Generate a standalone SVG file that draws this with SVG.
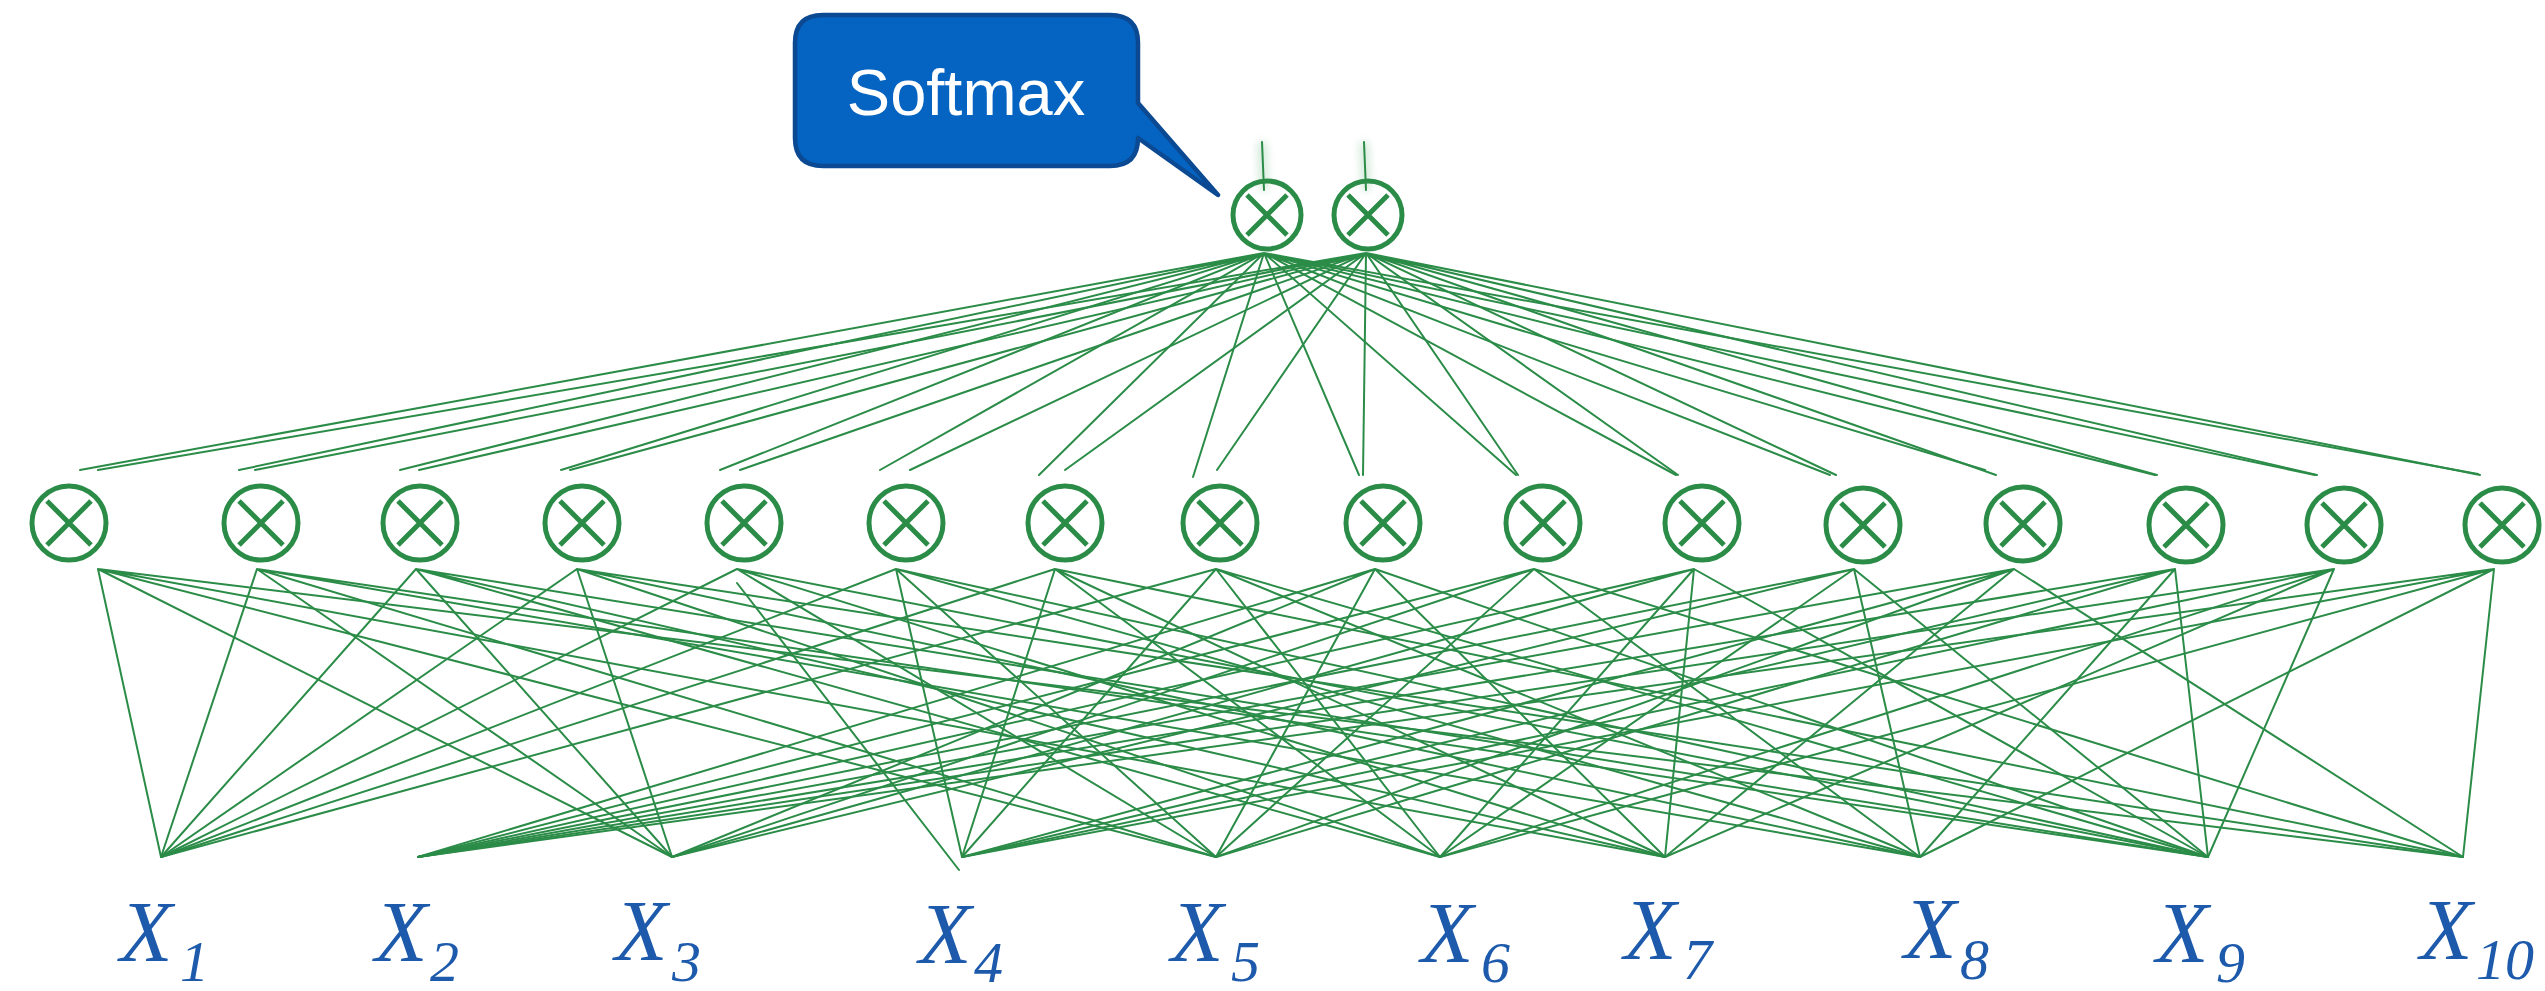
<svg xmlns="http://www.w3.org/2000/svg" width="2545" height="991" viewBox="0 0 2545 991">
  <defs>
    <style>
      .edge { fill: none; stroke: #2B8C48; stroke-width: 2; stroke-linecap: round; }
      .ring { fill: none; stroke: #2B8C48; stroke-width: 5; }
      .cross { fill: none; stroke: #2B8C48; stroke-width: 5; }
      .in { font-family: "Liberation Serif", "Times New Roman", serif; font-style: italic; fill: #1D5AAB; }
      .big { font-size: 86px; }
      .sub { font-size: 58px; }
      .callout-box { fill: #0563C1; stroke: #0B4A92; stroke-width: 4.5; stroke-linejoin: round; }
      .callout-text { font-family: "Liberation Sans", Arial, sans-serif; font-size: 65px; fill: #FFFFFF; text-anchor: middle; }
    </style>
    <filter id="glow" x="-2" y="-1" width="5" height="3">
      <feGaussianBlur stdDeviation="4"/>
    </filter>
  </defs>

  <rect width="2545" height="991" fill="#FFFFFF"/>

  <!-- connectors -->
  <g id="connectors">
    <!-- output units to the product layer -->
    <g id="top-edges" class="edge">
      <path d="M1264 253L80 470M1264 253L239 470M1264 253L400 470M1264 253L561 470M1264 253L720 470M1264 253L880 470M1264 253L1039 475M1264 253L1193 477M1264 253L1359 475M1264 253L1516 475M1264 253L1676 475M1264 253L1830 475M1264 253L1985 470M1264 253L2155 475M1264 253L2315 475M1264 253L2478 474"/>
      <path d="M1366 253L98 470M1366 253L255 470M1366 253L419 470M1366 253L570 470M1366 253L740 470M1366 253L910 470M1366 253L1065 470M1366 253L1217 470M1366 253L1363 475M1366 253L1518 475M1366 253L1678 475M1366 253L1836 475M1366 253L1996 475M1366 253L2157 475M1366 253L2317 475M1366 253L2480 475"/>
    </g>
    <!-- inputs feeding the product layer -->
    <g id="bottom-edges" class="edge">
      <path d="M98 569L161 857M98 569L672 857M98 569L1216 857M98 569L1665 857M98 569L2463 857"/>
      <path d="M257 569L161 857M257 569L672 857M257 569L1216 857M257 569L1920 857M257 569L2208 857"/>
      <path d="M416 569L161 857M416 569L672 857M416 569L1440 857M416 569L1665 857M416 569L2208 857"/>
      <path d="M577 569L161 857M577 569L672 857M577 569L1440 857M577 569L1920 857M577 569L2463 857"/>
      <path d="M737 569L161 857M737 583L959 870M737 569L1216 857M737 569L1665 857M737 569L2208 857"/>
      <path d="M896 569L161 857M896 569L962 857M896 569L1216 857M896 569L1920 857M896 569L2208 857"/>
      <path d="M1055 569L161 857M1055 569L962 857M1055 569L1440 857M1055 569L1665 857M1055 569L2463 857"/>
      <path d="M1216 569L161 857M1216 569L962 857M1216 569L1440 857M1216 569L1920 857M1216 569L2208 857"/>
      <path d="M1375 569L418 857M1375 569L672 857M1375 569L1216 857M1375 569L1665 857M1375 569L2208 857"/>
      <path d="M1534 569L418 857M1534 569L672 857M1534 569L1216 857M1534 569L1920 857M1534 569L2463 857"/>
      <path d="M1694 569L418 857M1694 569L672 857M1694 569L1440 857M1694 569L1665 857M1694 569L2208 857"/>
      <path d="M1854 569L418 857M1854 569L672 857M1854 569L1440 857M1854 569L1920 857M1854 569L2208 857"/>
      <path d="M2014 569L418 857M2014 569L962 857M2014 569L1216 857M2014 569L1665 857M2014 569L2463 857"/>
      <path d="M2175 569L418 857M2175 569L962 857M2175 569L1216 857M2175 569L1920 857M2175 569L2208 857"/>
      <path d="M2334 569L418 857M2334 569L962 857M2334 569L1440 857M2334 569L1665 857M2334 569L2208 857"/>
      <path d="M2494 569L418 857M2494 569L962 857M2494 569L1440 857M2494 569L1920 857M2494 569L2463 857"/>
    </g>
    <!-- outputs leaving the top units -->
    <g id="out-edges">
      <path d="M1262 142L1264 190M1364 142L1366 190" fill="none" stroke="#8CC79C" stroke-width="8" opacity="0.45" filter="url(#glow)"/>
      <path class="edge" d="M1262 142L1264 190M1364 142L1366 190"/>
    </g>
  </g>

  <!-- output product units -->
  <g id="o1"><circle class="ring" cx="1267" cy="215" r="34"/><path class="cross" d="M1247 195L1287 235M1287 195L1247 235"/></g>
  <g id="o2"><circle class="ring" cx="1368" cy="215" r="34"/><path class="cross" d="M1348 195L1388 235M1388 195L1348 235"/></g>

  <!-- hidden product units -->
  <g id="h1"><circle class="ring" cx="69" cy="523" r="37"/><path class="cross" d="M47 501L91 545M91 501L47 545"/></g>
  <g id="h2"><circle class="ring" cx="261" cy="523" r="37"/><path class="cross" d="M239 501L283 545M283 501L239 545"/></g>
  <g id="h3"><circle class="ring" cx="420" cy="523" r="37"/><path class="cross" d="M398 501L442 545M442 501L398 545"/></g>
  <g id="h4"><circle class="ring" cx="582" cy="523" r="37"/><path class="cross" d="M560 501L604 545M604 501L560 545"/></g>
  <g id="h5"><circle class="ring" cx="744" cy="523" r="37"/><path class="cross" d="M722 501L766 545M766 501L722 545"/></g>
  <g id="h6"><circle class="ring" cx="906" cy="523" r="37"/><path class="cross" d="M884 501L928 545M928 501L884 545"/></g>
  <g id="h7"><circle class="ring" cx="1065" cy="523" r="37"/><path class="cross" d="M1043 501L1087 545M1087 501L1043 545"/></g>
  <g id="h8"><circle class="ring" cx="1220" cy="523" r="37"/><path class="cross" d="M1198 501L1242 545M1242 501L1198 545"/></g>
  <g id="h9"><circle class="ring" cx="1383" cy="523" r="37"/><path class="cross" d="M1361 501L1405 545M1405 501L1361 545"/></g>
  <g id="h10"><circle class="ring" cx="1543" cy="523" r="37"/><path class="cross" d="M1521 501L1565 545M1565 501L1521 545"/></g>
  <g id="h11"><circle class="ring" cx="1702" cy="523" r="37"/><path class="cross" d="M1680 501L1724 545M1724 501L1680 545"/></g>
  <g id="h12"><circle class="ring" cx="1863" cy="525" r="37"/><path class="cross" d="M1841 503L1885 547M1885 503L1841 547"/></g>
  <g id="h13"><circle class="ring" cx="2023" cy="524" r="37"/><path class="cross" d="M2001 502L2045 546M2045 502L2001 546"/></g>
  <g id="h14"><circle class="ring" cx="2186" cy="525" r="37"/><path class="cross" d="M2164 503L2208 547M2208 503L2164 547"/></g>
  <g id="h15"><circle class="ring" cx="2344" cy="525" r="37"/><path class="cross" d="M2322 503L2366 547M2366 503L2322 547"/></g>
  <g id="h16"><circle class="ring" cx="2502" cy="525" r="37"/><path class="cross" d="M2480 503L2524 547M2524 503L2480 547"/></g>

  <!-- input labels -->
  <g id="x1"><text class="in"><tspan class="big" x="120" y="961">X</tspan><tspan class="sub" x="180" y="981">1</tspan></text></g>
  <g id="x2"><text class="in"><tspan class="big" x="375" y="961">X</tspan><tspan class="sub" x="430" y="981">2</tspan></text></g>
  <g id="x3"><text class="in"><tspan class="big" x="615" y="960">X</tspan><tspan class="sub" x="672" y="981">3</tspan></text></g>
  <g id="x4"><text class="in"><tspan class="big" x="919" y="963">X</tspan><tspan class="sub" x="974" y="982">4</tspan></text></g>
  <g id="x5"><text class="in"><tspan class="big" x="1171" y="961">X</tspan><tspan class="sub" x="1231" y="981">5</tspan></text></g>
  <g id="x6"><text class="in"><tspan class="big" x="1421" y="962">X</tspan><tspan class="sub" x="1481" y="982">6</tspan></text></g>
  <g id="x7"><text class="in"><tspan class="big" x="1624" y="959">X</tspan><tspan class="sub" x="1683" y="979">7</tspan></text></g>
  <g id="x8"><text class="in"><tspan class="big" x="1904" y="958">X</tspan><tspan class="sub" x="1960" y="979">8</tspan></text></g>
  <g id="x9"><text class="in"><tspan class="big" x="2156" y="962">X</tspan><tspan class="sub" x="2216" y="982">9</tspan></text></g>
  <g id="x10"><text class="in"><tspan class="big" x="2420" y="959">X</tspan><tspan class="sub" x="2476" y="979">10</tspan></text></g>

  <!-- callout -->
  <g id="softmax">
    <path class="callout-box" d="M823 15H1110Q1138 15 1138 43V103L1218 195L1138 138Q1138 166 1110 166H823Q795 166 795 138V43Q795 15 823 15Z"/>
    <text class="callout-text" x="966" y="115">Softmax</text>
  </g>
</svg>
